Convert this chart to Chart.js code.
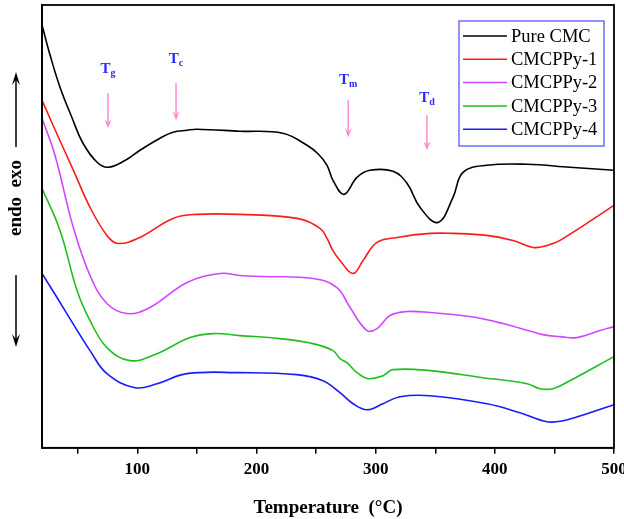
<!DOCTYPE html>
<html lang="en">
  <head>
    <meta charset="UTF-8" />
    <title>DSC curves</title>
    <style>
      body {
        margin: 0;
        background-color: #fff;
      }
      .chart-container {
        width: 624px;
        height: 519px;
      }
    </style>
  </head>
  <body>
    <div class="chart-container">
      <canvas id="dscChart"></canvas>
    </div>
    <script src="https://cdn.jsdelivr.net/npm/chart.js"></script>
    <script>
      // temperatures (°C) and heat flow (a.u., exo up)
      const pureCmcT = [20, 27, 35.1, 45, 54.4, 66.2, 75.4, 90, 102.2, 119, 129.9, 141.7, 150, 186, 222, 242.4, 252, 259.2, 264.2, 273.4, 284.3, 295.2, 314.5, 326.3, 337.2, 352.3, 364.9, 373.3, 393.4, 427, 463.1, 500];
      const pureCmcV = [422, 391, 360, 330, 304, 285, 280, 287, 297, 309, 315, 317, 318, 316, 314, 302, 293, 282, 267, 253, 270, 277, 276, 264, 240, 225, 250, 275, 282, 283, 280, 277];

      const cmcppy1T = [20, 33, 46, 60.3, 74.5, 83.8, 102.2, 129.9, 150.1, 186.1, 234, 253.3, 259.2, 264, 270.1, 281, 289.4, 301.1, 317.9, 345.6, 364.9, 393.4, 415.2, 432, 443.8, 454.7, 500];
      const cmcppy1V = [347, 312, 278, 240, 212, 204, 210, 229, 233, 233, 229, 219, 209, 197, 187, 174, 187, 205, 210, 214, 214, 212, 207, 200, 202, 207, 242];

      const cmcppy2T = [20, 30.9, 46, 60.3, 74.5, 91.3, 110.6, 141.7, 169.4, 186.1, 205.5, 247.4, 267.5, 278.5, 292.7, 301.1, 312, 326.3, 345.6, 379.2, 406.8, 440.4, 454.7, 468.9, 488.2, 500];
      const cmcppy2V = [329, 292, 221, 172, 144, 134, 140, 165, 174, 172, 171, 169, 160, 140, 117, 119, 132, 136, 135, 131, 124, 113, 111, 110, 117, 121];

      const cmcppy3T = [20, 35.1, 49.4, 60.3, 74.5, 93.8, 116.5, 144.2, 163.5, 186.1, 219.7, 247.4, 264.2, 270.1, 275.9, 284.3, 293.6, 306.1, 314.5, 345.6, 390.1, 427, 437.9, 448.8, 463.1, 500];
      const cmcppy3V = [259, 217, 157, 127, 100, 87, 94, 110, 114, 112, 109, 104, 97, 89, 85, 75, 69, 72, 78, 77, 70, 64, 59, 59, 67, 91];

      const cmcppy4T = [20, 32.6, 46, 60.3, 74.5, 98, 116.5, 141.7, 186.1, 234, 255.8, 270.1, 281, 292.7, 306.1, 320.4, 345.6, 393.4, 421.1, 443.8, 457.2, 477.3, 500];
      const cmcppy4V = [174, 150, 124, 97, 74, 60, 64, 74, 75, 73, 67, 55, 44, 38, 44, 51, 52, 44, 35, 26, 27, 34, 43];

      const seriesNames = ["Pure CMC", "CMCPPy-1", "CMCPPy-2", "CMCPPy-3", "CMCPPy-4"];
      const seriesColors = ["#000000", "#ff1a1a", "#d046ff", "#1fbf1f", "#1a1aff"];

      // transition markers: subscript, temperature, text baseline, arrow top, arrow tip
      const markerSubs = ["g", "c", "m", "d"];
      const markerTemps = [75.4, 132.5, 277, 343];
      const markerTextV = [374, 384, 363, 345];
      const markerArrowTop = [354, 364, 347, 332];
      const markerArrowTip = [319, 327, 310, 297];

      const xTickLabels = [100, 200, 300, 400, 500];

      function toPoints(ts, vs) {
        return ts.map((t, i) => ({ x: t, y: vs[i] }));
      }

      const allT = [pureCmcT, cmcppy1T, cmcppy2T, cmcppy3T, cmcppy4T];
      const allV = [pureCmcV, cmcppy1V, cmcppy2V, cmcppy3V, cmcppy4V];

      const serif = "'Liberation Serif', 'Times New Roman', serif";

      function arrow(ctx, x, y1, y2, color, head, halfW) {
        const dir = y2 > y1 ? 1 : -1;
        ctx.save();
        ctx.strokeStyle = color;
        ctx.fillStyle = color;
        ctx.lineWidth = 1.5;
        ctx.beginPath();
        ctx.moveTo(x, y1);
        ctx.lineTo(x, y2 - dir * head * 0.6);
        ctx.stroke();
        ctx.beginPath();
        ctx.moveTo(x, y2);
        ctx.lineTo(x - halfW, y2 - dir * head);
        ctx.lineTo(x, y2 - dir * head * 0.6);
        ctx.lineTo(x + halfW, y2 - dir * head);
        ctx.closePath();
        ctx.fill();
        ctx.restore();
      }

      const decorPlugin = {
        id: "decor",
        afterDraw(chart) {
          const ctx = chart.ctx;
          const area = chart.chartArea;
          const xs = chart.scales.x;
          const ys = chart.scales.y;

          // frame
          ctx.save();
          ctx.strokeStyle = "#000";
          ctx.lineWidth = 1.8;
          ctx.strokeRect(area.left, area.top, area.right - area.left, area.bottom - area.top);
          ctx.restore();

          // transition markers
          markerSubs.forEach((sub, i) => {
            const x = xs.getPixelForValue(markerTemps[i]);
            const ty = ys.getPixelForValue(markerTextV[i]);
            ctx.save();
            ctx.fillStyle = "#2a2aff";
            ctx.font = "bold 15px " + serif;
            const w1 = ctx.measureText("T").width;
            ctx.font = "bold 10px " + serif;
            const w2 = ctx.measureText(sub).width;
            const x0 = x - (w1 + w2) / 2;
            ctx.font = "bold 15px " + serif;
            ctx.fillText("T", x0, ty);
            ctx.font = "bold 10px " + serif;
            ctx.fillText(sub, x0 + w1, ty + 3);
            ctx.restore();
            arrow(ctx, x, ys.getPixelForValue(markerArrowTop[i]), ys.getPixelForValue(markerArrowTip[i]), "#ff8ad0", 9, 3.5);
          });

          // endo / exo label on the left
          const lx = area.left - 26;
          ctx.save();
          ctx.translate(lx, 198);
          ctx.rotate(-Math.PI / 2);
          ctx.fillStyle = "#000";
          ctx.font = "bold 19px " + serif;
          ctx.textAlign = "center";
          ctx.textBaseline = "middle";
          ctx.fillText("endo  exo", 0, 0);
          ctx.restore();
          arrow(ctx, lx, 147, 72, "#000", 13, 4);
          arrow(ctx, lx, 275, 347, "#000", 13, 4);

          // legend box
          const bx = area.right - 155;
          const by = area.top + 16;
          ctx.save();
          ctx.strokeStyle = "#6f6fff";
          ctx.lineWidth = 1.5;
          ctx.strokeRect(bx, by, 145, 125);
          ctx.font = "18.5px " + serif;
          ctx.textBaseline = "middle";
          chart.data.datasets.forEach((ds, i) => {
            const cy = by + 15 + i * 23.3;
            ctx.strokeStyle = ds.borderColor;
            ctx.lineWidth = 1.5;
            ctx.beginPath();
            ctx.moveTo(bx + 4, cy);
            ctx.lineTo(bx + 48, cy);
            ctx.stroke();
            ctx.fillStyle = "#000";
            ctx.fillText(ds.label, bx + 52, cy + 1);
          });
          ctx.restore();
        },
      };

      const dscChart = new Chart(document.getElementById("dscChart"), {
        type: "line",
        data: {
          datasets: seriesNames.map((name, i) => ({
            label: name,
            data: toPoints(allT[i], allV[i]),
            borderColor: seriesColors[i],
            borderWidth: 1.6,
            pointRadius: 0,
            tension: 0.4,
            fill: false,
          })),
        },
        options: {
          responsive: true,
          maintainAspectRatio: false,
          animation: false,
          layout: { padding: { left: 42, right: 10, top: 5, bottom: 0 } },
          plugins: {
            legend: { display: false },
            tooltip: { enabled: false },
          },
          scales: {
            x: {
              type: "linear",
              min: 20,
              max: 500,
              afterBuildTicks: (axis) => {
                const t = [];
                for (let v = 50; v <= 500; v += 50) t.push({ value: v });
                axis.ticks = t;
              },
              afterFit: (axis) => {
                axis.paddingRight = 0;
                axis.paddingLeft = 0;
              },
              ticks: {
                autoSkip: false,
                maxRotation: 0,
                padding: 6,
                color: "#000",
                font: { family: serif, size: 17, weight: "bold" },
                callback: (v) => (xTickLabels.includes(v) ? String(v) : ""),
              },
              grid: {
                display: true,
                drawOnChartArea: false,
                drawTicks: true,
                tickLength: 6,
                color: "#000",
                lineWidth: 1.5,
              },
              border: { display: true, color: "#000", width: 1.8 },
              title: {
                display: true,
                text: "Temperature  (°C)",
                color: "#000",
                font: { family: serif, size: 19, weight: "bold" },
                padding: { top: 10, bottom: 0 },
              },
            },
            y: {
              min: 0,
              max: 442,
              ticks: { display: false },
              grid: { display: false, drawTicks: false },
              border: { display: true, color: "#000", width: 1.8 },
            },
          },
        },
        plugins: [decorPlugin],
      });
    </script>
  </body>
</html>
